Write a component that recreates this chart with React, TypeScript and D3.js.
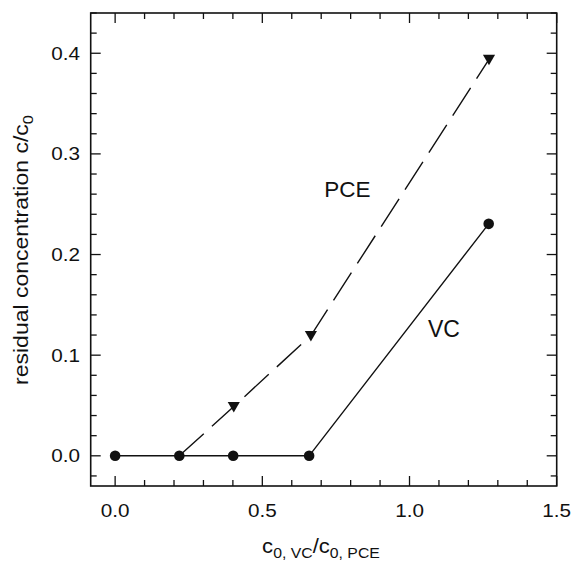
import React from "react";
import * as d3 from "d3";

const vcX = [0, 0.218, 0.401, 0.659, 1.269];
const vcY = [0, 0, 0, 0, 0.2305];
const pceX = [0, 0.218, 0.403, 0.665, 1.27];
const pceY = [0, 0, 0.049, 0.1195, 0.394];
const xMajor = [0, 0.5, 1.0, 1.5];
const yMajor = [0, 0.1, 0.2, 0.3, 0.4];
const xMinor = d3.range(-0.0, 1.51, 0.1);
const yMinor = d3.range(-0.02, 0.441, 0.02);

const W = 572, H = 563;
const L = 90.7, R = 556.7, T = 13, B = 486;
const FONT = "'Liberation Sans', Arial, Helvetica, sans-serif";

export default function App() {
  const x = d3.scaleLinear().domain([-0.083, 1.5]).range([L, R]);
  const y = d3.scaleLinear().domain([-0.03, 0.44]).range([B, T]);
  const line = d3.line<[number, number]>().x(d => x(d[0])).y(d => y(d[1]));
  const vc: [number, number][] = vcX.map((v, i) => [v, vcY[i]]);
  const pce: [number, number][] = pceX.map((v, i) => [v, pceY[i]]);
  const isMajor = (v: number, arr: number[]) => arr.some(a => Math.abs(a - v) < 1e-6);
  const tri = d3.symbol().type(d3.symbolTriangle).size(64)();

  return (
    <svg width={W} height={H} style={{ position: "absolute", left: 0, top: 0, background: "#fff" }}>
      <rect x={0} y={0} width={W} height={H} fill="#fff" />
      <g stroke="#111" strokeWidth={1.3}>
        {xMinor.map((v, i) => {
          const len = isMajor(v, xMajor) ? 10 : 6;
          const px = x(v);
          return (
            <g key={"xt" + i}>
              <line x1={px} x2={px} y1={B} y2={B - len} />
              <line x1={px} x2={px} y1={T} y2={T + len} />
            </g>
          );
        })}
        {yMinor.map((v, i) => {
          const len = isMajor(v, yMajor) ? 10 : 6;
          const py = y(v);
          return (
            <g key={"yt" + i}>
              <line x1={L} x2={L + len} y1={py} y2={py} />
              <line x1={R} x2={R - len} y1={py} y2={py} />
            </g>
          );
        })}
      </g>
      <rect x={L} y={T} width={R - L} height={B - T} fill="none" stroke="#111" strokeWidth={1.6} />
      <g fontFamily={FONT} fontSize={18} fill="#111">
        {xMajor.map((v, i) => (
          <text key={"xl" + i} transform={`translate(${x(v)},${517}) scale(1.15,1)`} textAnchor="middle">
            {v.toFixed(1)}
          </text>
        ))}
        {yMajor.map((v, i) => (
          <text key={"yl" + i} transform={`translate(${80},${y(v) + 6.5}) scale(1.15,1)`} textAnchor="end">
            {v.toFixed(1)}
          </text>
        ))}
      </g>
      <path d={line(pce.slice(1)) || ""} fill="none" stroke="#111" strokeWidth={1.4} strokeDasharray="33,11" />
      <path d={line(vc) || ""} fill="none" stroke="#111" strokeWidth={1.4} />
      {pce.slice(2).map((d, i) => (
        <path key={"p" + i} d={tri || ""} transform={`translate(${x(d[0])},${y(d[1]) - 1}) rotate(180)`} fill="#111" />
      ))}
      {vc.map((d, i) => (
        <circle key={"c" + i} cx={x(d[0])} cy={y(d[1])} r={5.3} fill="#111" />
      ))}
      <text x={347.5} y={196.5} textAnchor="middle" fontFamily={FONT} fontSize={22.5} fill="#111">PCE</text>
      <text x={444} y={336.5} textAnchor="middle" fontFamily={FONT} fontSize={23} fill="#111">VC</text>
      <text transform={`translate(${321},${553}) scale(1.13,1)`} textAnchor="middle" fontFamily={FONT} fontSize={19.5} fill="#111">
        c<tspan fontSize={14} dy={5}>0, VC</tspan><tspan dy={-5}>/c</tspan><tspan fontSize={14} dy={5}>0, PCE</tspan>
      </text>
      <text transform={`translate(${28},${250}) rotate(-90) scale(1.18,1)`} textAnchor="middle" fontFamily={FONT} fontSize={19.5} fill="#111">
        residual concentration c/c<tspan fontSize={14} dy={5}>0</tspan>
      </text>
    </svg>
  );
}
